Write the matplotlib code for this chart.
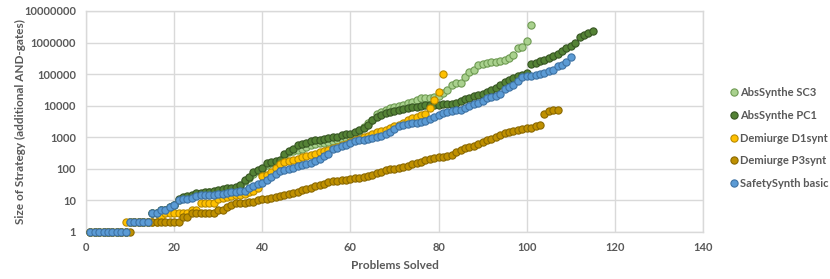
import matplotlib.pyplot as plt
from matplotlib.ticker import FixedLocator, FixedFormatter

# Sorted strategy sizes per solved problem (cactus plot)
abs_sc3 = [1, 1, 1, 1, 1, 1, 1, 1, 1, 2, 2, 2, 2, 2, 4, 4, 5, 5, 6, 7,
           10, 12, 13, 14, 15, 16, 17, 18, 19, 20, 21, 22, 23, 25, 28, 40, 50, 70, 85, 100,
           130, 150, 165, 180, 250, 330, 360, 400, 440, 480, 550, 600, 640, 660, 700, 750, 820, 900, 980, 1050,
           1300, 1600, 2100, 2800, 3600, 5500, 6500, 7300, 8500, 9300, 10000, 10500, 12000, 13500, 15000, 17000,
           18000, 18000, 19000, 21000, 26000, 31000, 45000, 51000, 52000, 83000, 120000, 135000, 190000, 210000,
           230000, 240000, 250000, 270000, 290000, 320000, 400000, 650000, 700000, 1150000, 3700000]

abs_pc1 = [1, 1, 1, 1, 1, 1, 1, 1, 1, 2, 2, 2, 2, 2, 4, 4, 5, 5, 6, 7,
           11, 13, 14, 15, 17, 17, 18, 19, 20, 21, 23, 24, 25, 27, 30, 45, 55, 80, 95, 110,
           150, 170, 180, 190, 300, 380, 420, 550, 620, 680, 750, 800, 850, 900, 950, 1000, 1050, 1150, 1250, 1300,
           1450, 1650, 2000, 2400, 3400, 4500, 5200, 5700, 6200, 7000, 7500, 8000, 8500, 9000, 9300, 9700,
           10200, 10500, 10700, 10900, 11000, 11200, 11500, 12000, 14500, 16500, 18000, 20000, 22000, 24000,
           27000, 31000, 36000, 45000, 55000, 65000, 75000, 85000, 95000, 112000, 210000, 230000, 260000, 290000,
           330000, 380000, 430000, 550000, 650000, 800000, 1000000, 1500000, 1800000, 2000000, 2400000]

demi_d1 = [1, 1, 1, 1, 1, 1, 1, 1, 2, 2, 2, 2, 2, 2, 2, 2, 3, 4, 4, 4,
           4, 4, 4, 5, 5, 8, 8, 8, 8, 11, 12, 13, 14, 15, 15, 16, 18, 20, 25, 60,
           65, 80, 110, 140, 160, 175, 190, 210, 240, 260, 280, 300, 330, 360, 400, 450, 500, 550, 600, 700,
           800, 900, 1000, 1100, 1300, 1500, 1600, 1700, 1900, 2200, 2500, 2900, 3500, 4000, 4500, 5100,
           5300, 8700, 15000, 27000, 100000]

demi_p3 = [1, 1, 1, 1, 1, 1, 1, 1, 1, 1, 2, 2, 2, 2, 2, 2, 2, 2, 2, 2,
           2, 3, 3, 4, 4, 4, 4, 4, 4, 5, 5, 6, 7, 8, 8, 8, 9, 9, 10, 11,
           11, 12, 13, 14, 15, 16, 17, 19, 21, 23, 25, 28, 31, 34, 37, 40, 42, 43, 44, 46,
           50, 52, 54, 60, 66, 72, 80, 90, 96, 102, 108, 115, 125, 140, 150, 170,
           190, 205, 215, 230, 245, 260, 275, 350, 410, 460, 500, 540, 620, 720,
           820, 900, 1000, 1180, 1400, 1500, 1600, 1700, 1800, 1900, 2000, 2200, 2450, 5500, 6800, 7100, 7200]

safety_basic = [1, 1, 1, 1, 1, 1, 1, 1, 1, 2, 2, 2, 2, 2, 4, 4, 5, 5, 6, 7,
                10, 11, 11, 12, 14, 15, 15, 15, 15, 16, 16, 17, 18, 19, 20, 20, 24, 28, 32, 36,
                44, 56, 70, 85, 92, 98, 110, 120, 130, 145, 155, 175, 210, 250, 300, 420, 460, 520, 560, 680,
                740, 800, 830, 900, 960, 1000, 1100, 1250, 1500, 1800, 2300, 2500, 2600, 2750, 2900, 3100,
                3300, 3700, 4400, 5000, 5800, 6500, 7000, 7200, 7400, 8500, 9700, 11000, 12000, 14000,
                17000, 19000, 21000, 24000, 33000, 38000, 45000, 60000, 80000, 85000, 87000, 92000, 100000,
                110000, 125000, 135000, 180000, 200000, 250000, 350000]

series = [
    ("AbsSynthe SC3", abs_sc3, "#A9D18E", "#6E9A52"),
    ("AbsSynthe PC1", abs_pc1, "#548235", "#375623"),
    ("Demiurge D1synt", demi_d1, "#FFC000", "#B88A00"),
    ("Demiurge P3synt", demi_p3, "#BF9000", "#8A6800"),
    ("SafetySynth basic", safety_basic, "#5B9BD5", "#3E72A3"),
]

x_ticks = [0, 20, 40, 60, 80, 100, 120, 140]
y_ticks = [1, 10, 100, 1000, 10000, 100000, 1000000, 10000000]
y_labels = ["1", "10", "100", "1000", "10000", "100000", "1000000", "10000000"]

plt.rcParams["font.family"] = ["Lato", "DejaVu Sans"]
grey = "#595959"
grid = "#D9D9D9"

fig = plt.figure(figsize=(8.3, 2.79), dpi=100)
ax = fig.add_axes([0.1036, 0.1685, 0.7434, 0.7921])

for i, (name, vals, fc, ec) in enumerate(series):
    xs = list(range(1, len(vals) + 1))
    ax.plot(xs, vals, linestyle="none", marker="o", markersize=5.2,
            markerfacecolor=fc, markeredgecolor=ec, markeredgewidth=0.8,
            label=name, clip_on=False, zorder=3 + i)

ax.set_yscale("log")
ax.set_xlim(0, 140)
ax.set_ylim(1, 10000000)
ax.xaxis.set_major_locator(FixedLocator(x_ticks))
ax.yaxis.set_major_locator(FixedLocator(y_ticks))
ax.yaxis.set_major_formatter(FixedFormatter(y_labels))
ax.yaxis.set_minor_locator(FixedLocator([]))
ax.tick_params(length=0, labelsize=8, labelcolor=grey, pad=7)
for lab in ax.get_xticklabels() + ax.get_yticklabels():
    lab.set_fontweight("bold")

ax.grid(True, color=grid, linewidth=1)
ax.set_axisbelow(True)
for sp in ax.spines.values():
    sp.set_color(grid)
    sp.set_linewidth(1)

ax.set_xlabel("Problems Solved", fontsize=8.5, color=grey, fontweight="bold", labelpad=5)
ax.set_ylabel("Size of Strategy (additional AND-gates)", fontsize=8.5, color=grey,
              fontweight="bold")
ax.yaxis.set_label_coords(-0.097, 0.5)

leg = ax.legend(loc="center left", bbox_to_anchor=(0.872, 0.505), bbox_transform=fig.transFigure,
                frameon=False, fontsize=8, handletextpad=0.1, labelspacing=1.05,
                handlelength=1.0, borderaxespad=0)
for t in leg.get_texts():
    t.set_color(grey)
    t.set_fontweight("bold")

fig.savefig("out.png", dpi=100)
